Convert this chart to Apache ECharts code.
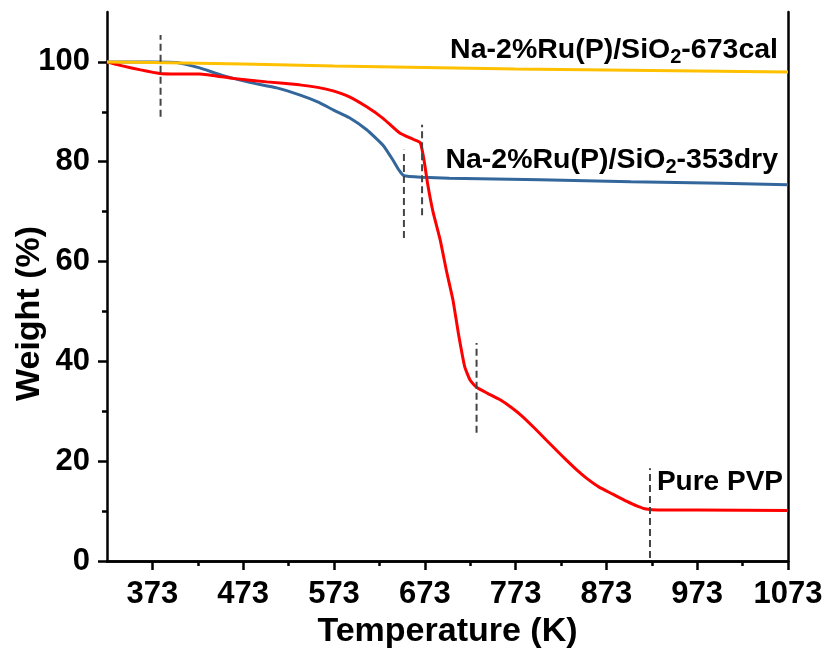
<!DOCTYPE html>
<html>
<head>
<meta charset="utf-8">
<script src="https://cdn.jsdelivr.net/npm/echarts@6/dist/echarts.min.js"></script>
<style>html,body{margin:0;padding:0;background:#fff}#c{width:829px;height:658px}</style>
</head>
<body>
<div id="c"></div>
<script>
// ---- data ----
const xTicks = [373, 473, 573, 673, 773, 873, 973, 1073];
const xMinorTicks = [423, 523, 623, 723, 823, 923, 1023];
const yTicks = [0, 20, 40, 60, 80, 100];
const yMinorTicks = [10, 30, 50, 70, 90];

const calTemp = [323, 373, 473, 573, 673, 773, 873, 973, 1073];
const calWeight = [100, 99.9, 99.6, 99.2, 98.9, 98.6, 98.4, 98.2, 98.0];

const dryTemp = [323, 373, 400, 425, 450, 480, 510, 535, 555, 572, 590, 609, 627, 638, 645, 650, 670, 700, 800, 900, 1000, 1073];
const dryWeight = [100, 100, 99.9, 98.8, 97.3, 95.9, 94.8, 93.4, 92.0, 90.4, 88.8, 86.4, 83.3, 80.3, 78.2, 77.2, 76.9, 76.7, 76.4, 76.0, 75.7, 75.4];

const pvpTemp = [323, 340, 360, 381, 400, 425, 462, 499, 535, 555, 572, 590, 609, 627, 645, 660, 668, 672, 676, 682, 690, 697, 704, 710, 717, 723, 730, 742, 756, 768, 781, 794, 807, 818, 829, 840, 851, 865, 880, 895, 907, 917, 930, 973, 1073];
const pvpWeight = [100, 99.2, 98.4, 97.7, 97.6, 97.6, 96.7, 96.0, 95.4, 94.9, 94.2, 93.0, 91.0, 88.7, 85.8, 84.5, 83.8, 80.5, 75.7, 70.0, 64.3, 58.0, 52.3, 45.6, 38.9, 36.2, 34.8, 33.6, 32.3, 30.8, 28.9, 26.6, 24.2, 22.2, 20.2, 18.3, 16.6, 14.8, 13.4, 12.0, 11.0, 10.4, 10.2, 10.2, 10.1];

const dashX = [382, 650, 670, 730, 921];
const dashLow = [89.0, 64.7, 69.3, 25.7, 0.6];
const dashHigh = [105.4, 82.4, 87.4, 43.7, 18.6];

const labelCal = ['Na-2%Ru(P)/SiO', '2', '-673cal'];
const labelDry = ['Na-2%Ru(P)/SiO', '2', '-353dry'];
const labelPvp = 'Pure PVP';

// ---- build ----
const FONT = "'Liberation Sans', Arial, sans-serif";
const zip = (a, b) => a.map((v, i) => [v, b[i]]);
const black = '#000';
const axisLine = { show: true, lineStyle: { color: black, width: 2.5 } };

const dashSeries = dashX.map((x, i) => ({
  type: 'line', xAxisIndex: 0, yAxisIndex: 0, symbol: 'none', silent: true, z: 5,
  lineStyle: { color: '#444', width: 2, type: [7, 4] },
  data: [[x, dashLow[i]], [x, dashHigh[i]]]
}));

const rich = {
  m: { fontFamily: FONT, fontWeight: 'bold', fontSize: 28.5, lineHeight: 34, fill: '#000', color: '#000' },
  s: { fontFamily: FONT, fontWeight: 'bold', fontSize: 20, verticalAlign: 'bottom', fill: '#000', color: '#000' }
};
function richLabel(parts) {
  return '{m|' + parts[0] + '}{s|' + parts[1] + '}{m|' + parts[2] + '}';
}

const chart = echarts.init(document.getElementById('c'));
chart.setOption({
  animation: false,
  backgroundColor: '#fff',
  grid: { left: 107, right: 41, top: 12, bottom: 97, containLabel: false, outerBoundsMode: 'none' },
  xAxis: [
    {
      type: 'value', position: 'bottom', min: 323, max: 1073,
      name: 'Temperature (K)', nameLocation: 'middle', nameGap: 54,
      nameTextStyle: { fontFamily: FONT, fontWeight: 'bold', fontSize: 34, color: black },
      axisLine: axisLine,
      axisTick: { show: true, customValues: xTicks, length: 9, lineStyle: { color: black, width: 2.5 } },
      axisLabel: { show: true, customValues: xTicks, margin: 18, fontFamily: FONT, fontWeight: 'bold', fontSize: 31, color: black, formatter: v => String(v) },
      splitLine: { show: false }
    },
    {
      type: 'value', position: 'bottom', min: 323, max: 1073,
      axisLine: { show: false },
      axisTick: { show: true, customValues: xMinorTicks, length: 5, lineStyle: { color: black, width: 2.5 } },
      axisLabel: { show: false },
      splitLine: { show: false }
    },
    {
      type: 'value', position: 'top', min: 323, max: 1073,
      axisLine: axisLine, axisTick: { show: false }, axisLabel: { show: false }, splitLine: { show: false }
    }
  ],
  yAxis: [
    {
      type: 'value', position: 'left', min: 0, max: 110,
      name: 'Weight (%)', nameLocation: 'middle', nameGap: 60, nameMoveOverlap: false,
      nameTextStyle: { fontFamily: FONT, fontWeight: 'bold', fontSize: 34, color: black, padding: [0, 54, 0, 0] },
      axisLine: axisLine,
      axisTick: { show: true, customValues: yTicks, length: 9, lineStyle: { color: black, width: 2.5 } },
      axisLabel: { show: true, customValues: yTicks, margin: 17, fontFamily: FONT, fontWeight: 'bold', fontSize: 31, color: black, formatter: v => String(v) },
      splitLine: { show: false }
    },
    {
      type: 'value', position: 'left', min: 0, max: 110,
      axisLine: { show: false },
      axisTick: { show: true, customValues: yMinorTicks, length: 5, lineStyle: { color: black, width: 2.5 } },
      axisLabel: { show: false },
      splitLine: { show: false }
    },
    {
      type: 'value', position: 'right', min: 0, max: 110,
      axisLine: axisLine, axisTick: { show: false }, axisLabel: { show: false }, splitLine: { show: false }
    }
  ],
  series: [
    {
      name: 'dry', type: 'line', xAxisIndex: 0, yAxisIndex: 0, symbol: 'none', smooth: 0.15, z: 2,
      lineStyle: { color: '#33679C', width: 3 }, data: zip(dryTemp, dryWeight)
    },
    {
      name: 'pvp', type: 'line', xAxisIndex: 0, yAxisIndex: 0, symbol: 'none', smooth: 0.15, z: 3,
      lineStyle: { color: '#FF0000', width: 3 }, data: zip(pvpTemp, pvpWeight)
    },
    {
      name: 'cal', type: 'line', xAxisIndex: 0, yAxisIndex: 0, symbol: 'none', smooth: 0.15, z: 4,
      lineStyle: { color: '#FFC000', width: 3 }, data: zip(calTemp, calWeight)
    }
  ].concat(dashSeries),
  graphic: [
    { type: 'text', x: 778, y: 50, z: 10, style: { text: richLabel(labelCal), rich: rich, align: 'right', verticalAlign: 'middle' } },
    { type: 'text', x: 778, y: 160, z: 10, style: { text: richLabel(labelDry), rich: rich, align: 'right', verticalAlign: 'middle' } },
    { type: 'text', x: 783, y: 482, z: 10, style: { text: labelPvp, font: 'bold 28px ' + FONT, fill: '#000', align: 'right', verticalAlign: 'middle' } }
  ]
});
</script>
</body>
</html>
